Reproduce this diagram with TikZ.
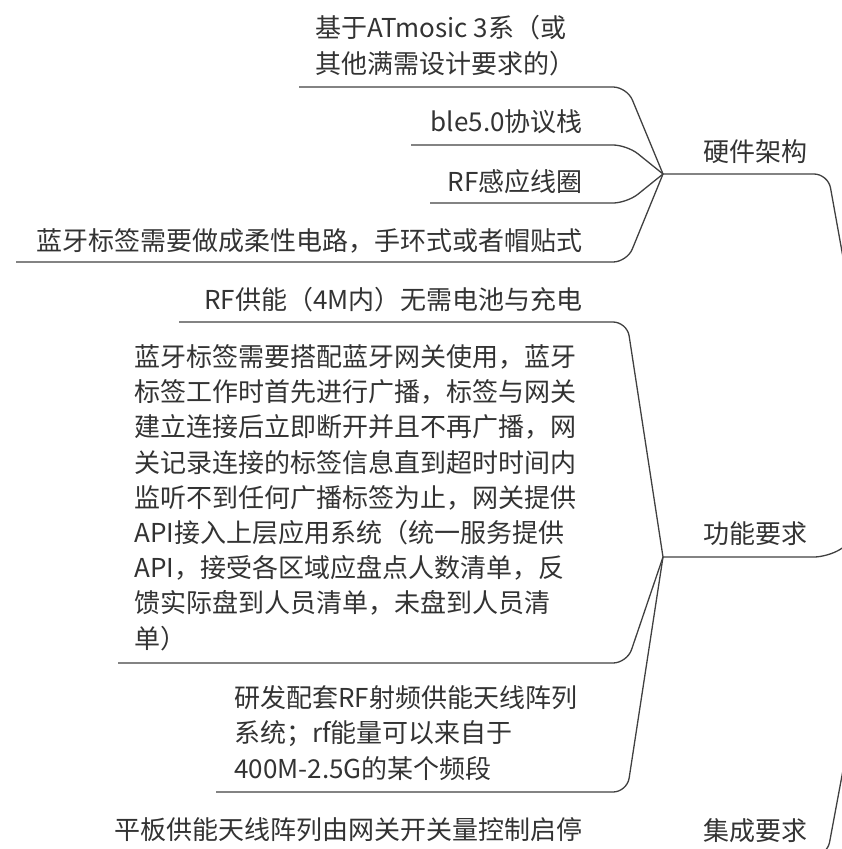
\documentclass[tikz,border=0pt]{standalone}
\usepackage{fontspec}
\setmainfont{Noto Sans CJK SC}
\definecolor{ink}{HTML}{333333}
\definecolor{wirec}{HTML}{404040}
\begin{document}
\begin{tikzpicture}[x=1pt,y=-1pt,
  txt/.style={inner sep=0pt, text=ink, font=\fontsize{26pt}{35.2pt}\selectfont},
  wire/.style={draw=wirec, line width=1.3pt, rounded corners=14pt}]
\useasboundingbox (0,0) rectangle (842,849);
\clip (0,0) rectangle (842,849);
% texts (base of a multi-line node = baseline of its last line)
\node[txt, anchor=base west, align=left] (hwa) at (315,73) {基于ATmosic 3系（或\\其他满需设计要求的）};
\node[txt, anchor=base east] (hwb) at (583,131) {ble5.0协议栈};
\node[txt, anchor=base east] (hwc) at (583,191) {RF感应线圈};
\node[txt, anchor=base east] (hwd) at (583,250) {蓝牙标签需要做成柔性电路，手环式或者帽贴式};
\node[txt, anchor=base] (hw) at (755,161) {硬件架构};
\node[txt, anchor=base east] (fa) at (583,309) {RF供能（4M内）无需电池与充电};
\node[txt, anchor=base west, align=left] (fb) at (134,648) {蓝牙标签需要搭配蓝牙网关使用，蓝牙\\标签工作时首先进行广播，标签与网关\\建立连接后立即断开并且不再广播，网\\关记录连接的标签信息直到超时时间内\\监听不到任何广播标签为止，网关提供\\API接入上层应用系统（统一服务提供\\API，接受各区域应盘点人数清单，反\\馈实际盘到人员清单，未盘到人员清\\单）};
\node[txt, anchor=base] (fn) at (755,543) {功能要求};
\node[txt, anchor=base west, align=left] (fc) at (234,778) {研发配套RF射频供能天线阵列\\系统；rf能量可以来自于\\400M-2.5G的某个频段};
\node[txt, anchor=base east] (ia) at (583,839) {平板供能天线阵列由网关开关量控制启停};
\node[txt, anchor=base] (in) at (755,840) {集成要求};
% coordinates
\coordinate (root) at (890,518);
\coordinate (hwh) at (663,174);
\coordinate (fh) at (663,557);
\coordinate (ih) at (663,856);
\coordinate (bx) at (627,0);
\coordinate (hwk) at (828,174);
\coordinate (fk) at (828,557);
\coordinate (ik) at (827,856);
\coordinate (u1) at (299,87);
\coordinate (u2) at (411,145);
\coordinate (u3) at (430,203);
\coordinate (u4) at (16,262);
\coordinate (v1) at (179,322);
\coordinate (v2) at (118,663);
\coordinate (v3) at (216,792);
% connectors
\foreach \u in {u1,u2,u3,u4} \draw[wire] (\u) -- (\u -| bx) -- (hwh);
\foreach \v in {v1,v2,v3} \draw[wire] (\v) -- (\v -| bx) -- (fh);
\draw[wire] (hwh) -- (hwk) -- (root);
\draw[wire] (fh) -- (fk) -- (root);
\draw[wire] (ih) -- (ik) -- (root);
\end{tikzpicture}
\end{document}
